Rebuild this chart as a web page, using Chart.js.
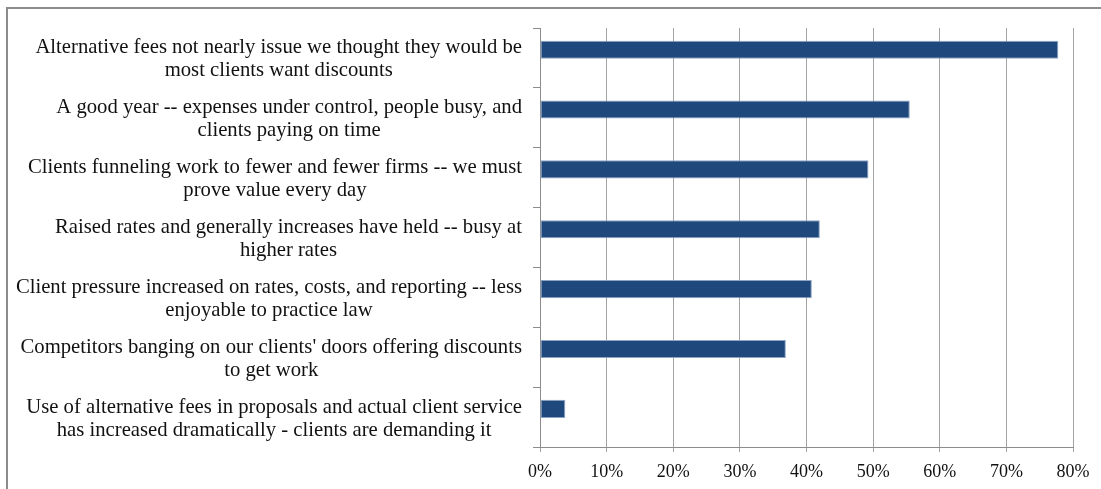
<!DOCTYPE html>
<html>
<head>
<meta charset="utf-8">
<script src="https://cdn.jsdelivr.net/npm/chart.js@4/dist/chart.umd.min.js"></script>
<style>
  html, body { margin: 0; padding: 0; background: #fff; }
  #wrap { position: relative; width: 1101px; height: 489px; }
</style>
</head>
<body>
<div id="wrap"><canvas id="chart" width="1101" height="489"></canvas></div>
<script>
// each category is wrapped the way the original labels are
const categories = [
  ["Alternative fees not nearly issue we thought they would be", "most clients want discounts"],
  ["A good year -- expenses under control, people busy, and", "clients paying on time"],
  ["Clients funneling work to fewer and fewer firms -- we must", "prove value every day"],
  ["Raised rates and generally increases have held -- busy at", "higher rates"],
  ["Client pressure increased on rates, costs, and reporting -- less", "enjoyable to practice law"],
  ["Competitors banging on our clients' doors offering discounts", "to get work"],
  ["Use of alternative fees in proposals and actual client service", "has increased dramatically - clients are demanding it"]
];
const responses = [77.8, 55.5, 49.3, 42.0, 40.8, 36.9, 3.8];
const emptySeries = [null, null, null, null, null, null, null];
const xTicks = [0, 10, 20, 30, 40, 50, 60, 70, 80];

const FONT = '"Liberation Serif", "Times New Roman", serif';

// category labels: block right aligned, each line centred in the block
const wrappedLabels = {
  id: 'wrappedLabels',
  afterDraw(chart) {
    const { ctx } = chart;
    const y = chart.scales.y;
    const right = y.right - 18;
    const lineH = 23;
    ctx.save();
    ctx.font = '20.7px ' + FONT;
    ctx.fillStyle = '#111';
    ctx.textAlign = 'center';
    ctx.textBaseline = 'middle';
    categories.forEach((lines, i) => {
      const yc = y.getPixelForValue(i) + 1.5;
      const w = Math.max(...lines.map(l => ctx.measureText(l).width));
      const cx = right - w / 2;
      lines.forEach((line, j) => {
        ctx.fillText(line, cx, yc + (j - (lines.length - 1) / 2) * lineH);
      });
    });
    ctx.restore();
  }
};

// thin grey frame on the top and left side of the picture
const frame = {
  id: 'frame',
  afterDraw(chart) {
    const ctx = chart.ctx;
    ctx.save();
    ctx.strokeStyle = '#8c8c8c';
    ctx.lineWidth = 2;
    ctx.beginPath();
    ctx.moveTo(chart.width, 8);
    ctx.lineTo(7, 8);
    ctx.lineTo(7, chart.height);
    ctx.stroke();
    ctx.restore();
  }
};

new Chart(document.getElementById('chart'), {
  type: 'bar',
  data: {
    labels: categories,
    datasets: [
      {
        label: 'Responses',
        data: responses,
        backgroundColor: '#1F497D',
        borderColor: '#8ea4c4',
        borderWidth: 1,
        borderSkipped: false
      },
      {
        label: '',
        data: emptySeries,
        backgroundColor: '#1F497D'
      }
    ]
  },
  options: {
    indexAxis: 'y',
    responsive: false,
    animation: false,
    events: [],
    categoryPercentage: 0.55,
    barPercentage: 1.1,
    layout: { padding: { top: 28, right: 28, left: 0, bottom: 0 } },
    plugins: {
      legend: { display: false },
      tooltip: { enabled: false }
    },
    scales: {
      x: {
        min: 0,
        max: 80,
        afterBuildTicks: scale => { scale.ticks = xTicks.map(v => ({ value: v })); },
        afterFit: scale => { scale.height = 42; },
        grid: { color: '#a3a3a3', lineWidth: 1, tickLength: 5 },
        border: { color: '#8c8c8c', width: 1 },
        ticks: {
          padding: 9,
          color: '#111',
          font: { family: FONT, size: 18 },
          maxRotation: 0,
          callback: v => v + '%'
        }
      },
      y: {
        afterFit: scale => { scale.width = 540; },
        grid: {
          offset: true,
          drawOnChartArea: false,
          color: '#8c8c8c',
          tickLength: 7
        },
        border: { color: '#8c8c8c', width: 1 },
        ticks: { display: false }
      }
    }
  },
  plugins: [wrappedLabels, frame]
});
</script>
</body>
</html>
